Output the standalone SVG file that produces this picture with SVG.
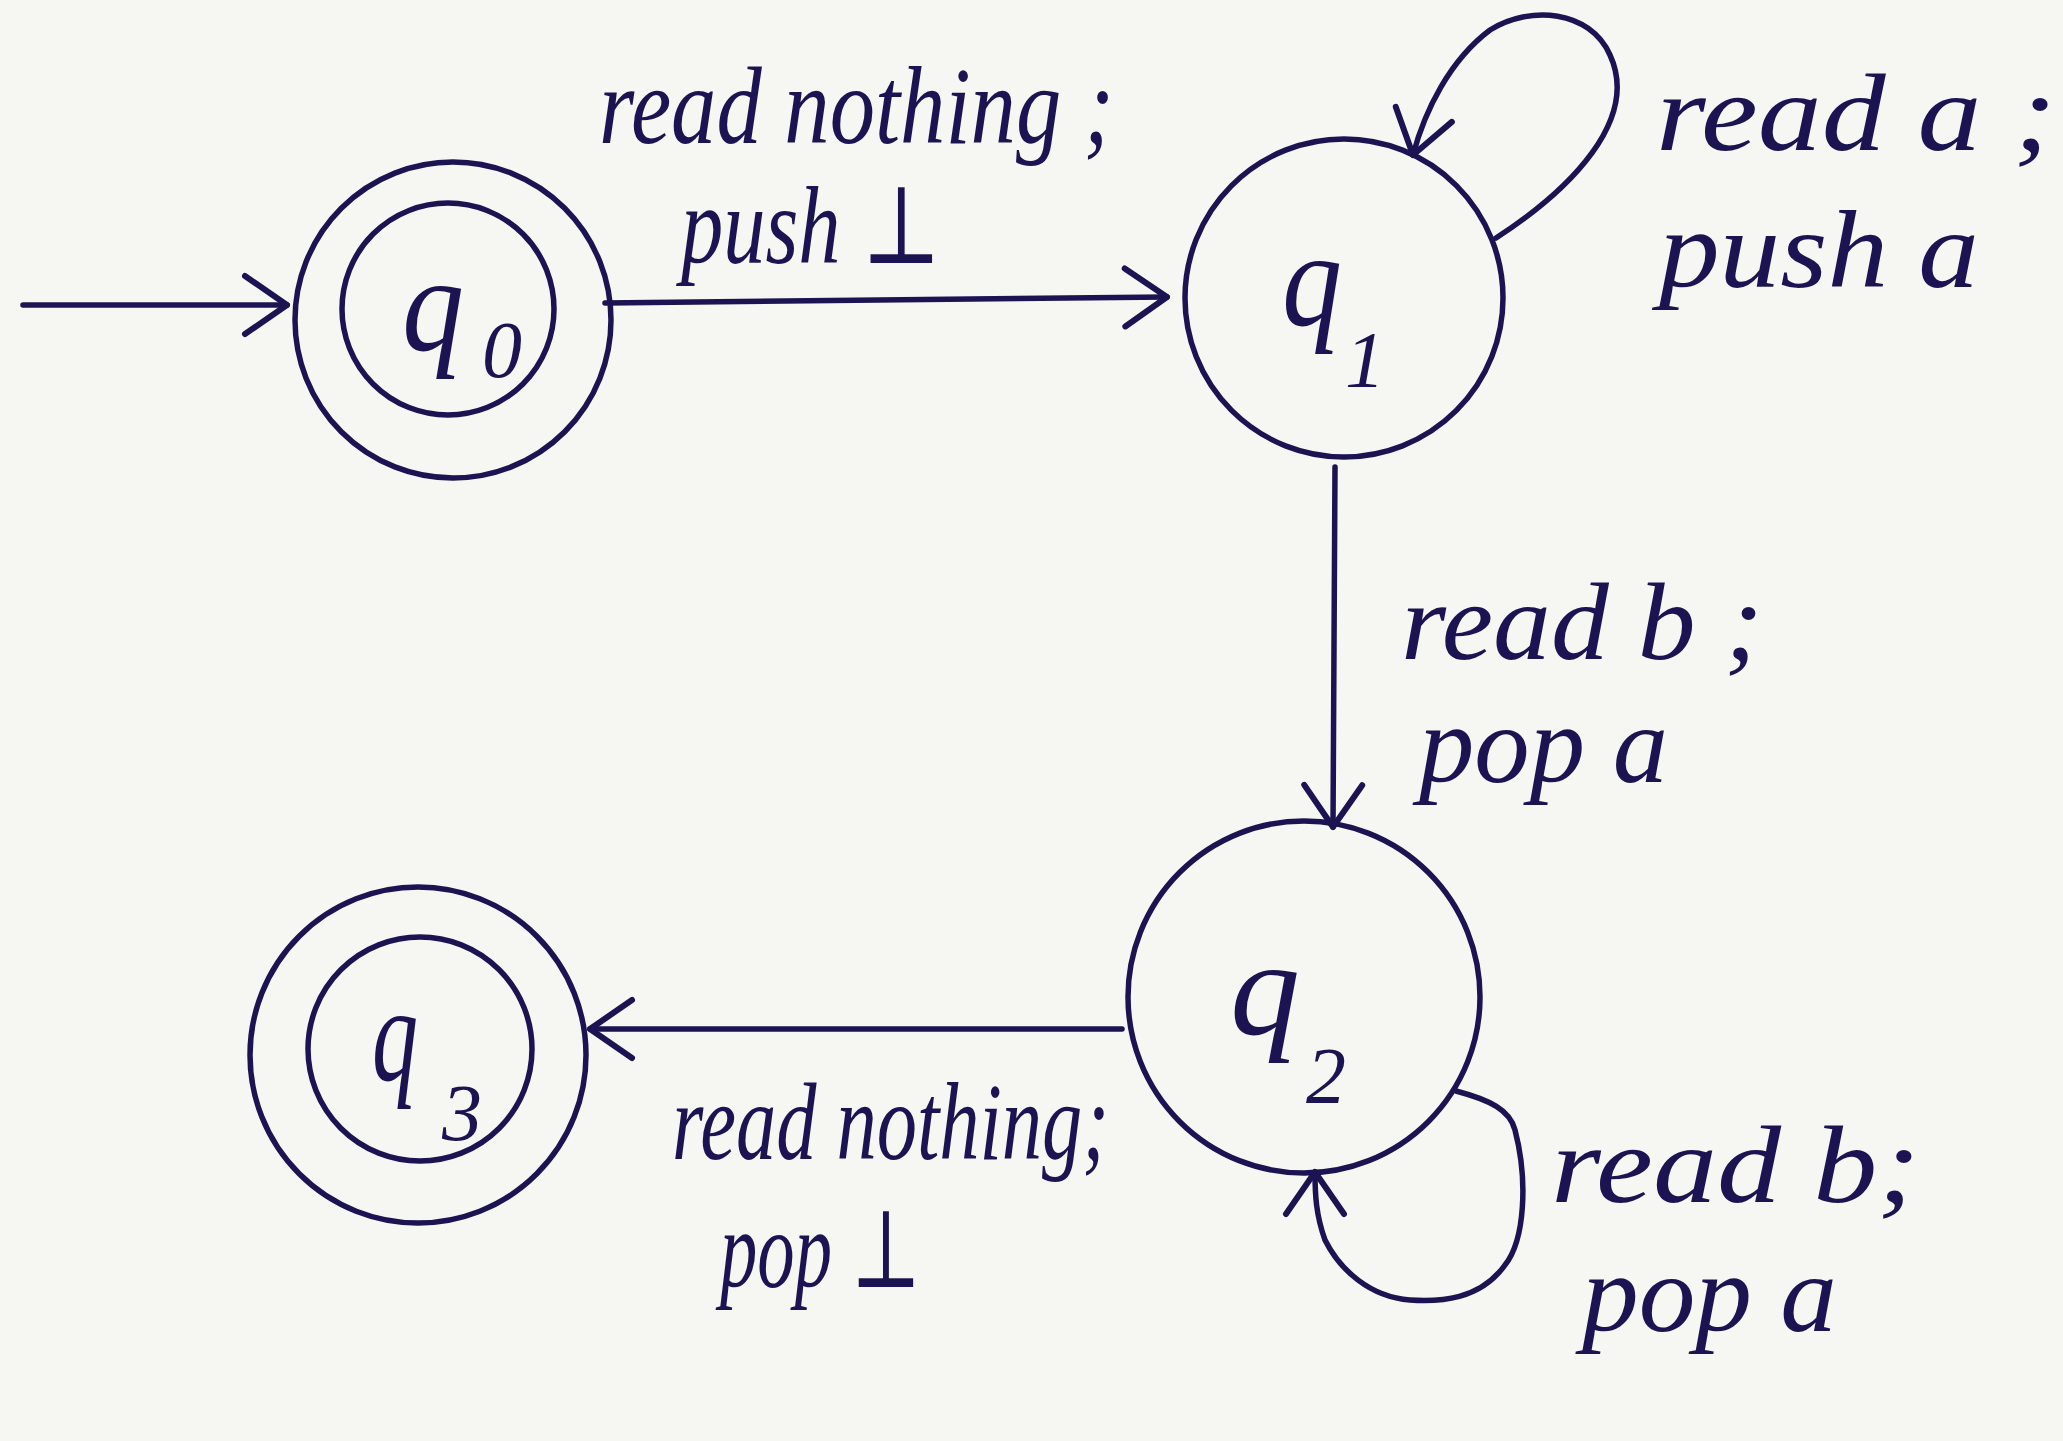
<svg xmlns="http://www.w3.org/2000/svg" width="2063" height="1441" viewBox="0 0 2063 1441">
<style>
.st{fill:none;stroke:#1c1452;stroke-width:5.5;stroke-linecap:round;stroke-linejoin:round}
.lbl{font-family:"Liberation Serif","DejaVu Serif",serif;font-style:italic;font-size:110px;fill:#1c1452}
.q{font-family:"Liberation Serif","DejaVu Serif",serif;font-style:italic;font-size:135px;fill:#1c1452}
.sub{font-family:"Liberation Serif","DejaVu Serif",serif;font-style:italic;font-size:80px;fill:#1c1452}
</style>
<defs>
<marker id="ah" markerUnits="userSpaceOnUse" viewBox="-60 -50 70 100" refX="0" refY="0" markerWidth="70" markerHeight="100" orient="auto" overflow="visible">
<path d="M-42,-29 L0,0 L-42,29" fill="none" stroke="#1c1452" stroke-width="6" stroke-linecap="round" stroke-linejoin="round"/>
</marker>
</defs>
<rect width="2063" height="1441" fill="#f6f6f2"/>
<g id="q0">
<circle class="st" cx="453" cy="320" r="158"/>
<circle class="st" cx="448" cy="309" r="106"/>
<text class="q" x="402" y="350" font-size="175" textLength="62" lengthAdjust="spacingAndGlyphs">q</text>
<text class="sub" x="482" y="377" font-size="55">0</text>
</g>
<g id="q1">
<circle class="st" cx="1344" cy="298" r="159"/>
<text class="q" x="1282" y="325" textLength="60" lengthAdjust="spacingAndGlyphs">q</text>
<text class="sub" x="1345" y="387">1</text>
</g>
<g id="q2">
<circle class="st" cx="1304" cy="997" r="176"/>
<text class="q" x="1230" y="1034" textLength="70" lengthAdjust="spacingAndGlyphs">q</text>
<text class="sub" x="1306" y="1103" font-size="85">2</text>
</g>
<g id="q3">
<circle class="st" cx="418" cy="1055" r="168"/>
<circle class="st" cx="420" cy="1049" r="112"/>
<text class="q" x="372" y="1080" textLength="46" lengthAdjust="spacingAndGlyphs">q</text>
<text class="sub" x="442" y="1140" font-size="80">3</text>
</g>
<g id="connectors">
<path class="st" d="M23,305 L287,305" marker-end="url(#ah)"/>
<path class="st" d="M605,303 L1167,297" marker-end="url(#ah)"/>
<path class="st" d="M1335,467 L1333,827" marker-end="url(#ah)"/>
<path class="st" d="M1122,1029 L590,1029" marker-end="url(#ah)"/>
<path class="st" d="M1496,238 C1570,190 1640,120 1610,55 C1590,10 1530,5 1490,30 C1450,60 1425,110 1413,155" marker-end="url(#ah)"/>
<path class="st" d="M1456,1091 C1490,1100 1510,1110 1515,1130 C1528,1180 1525,1240 1505,1265 C1480,1300 1440,1302 1410,1300 C1370,1297 1340,1270 1325,1240 C1316,1215 1315,1195 1315,1172" marker-end="url(#ah)"/>
</g>
<g id="labels">
<text class="lbl" x="599" y="143" textLength="515" lengthAdjust="spacingAndGlyphs">read nothing ;</text>
<text class="lbl" x="681" y="263" textLength="260" lengthAdjust="spacingAndGlyphs">push ⊥</text>
<text class="lbl" x="1656" y="150" textLength="400" lengthAdjust="spacingAndGlyphs">read a ;</text>
<text class="lbl" x="1659" y="287" textLength="320" lengthAdjust="spacingAndGlyphs">push a</text>
<text class="lbl" x="1401" y="659" textLength="362" lengthAdjust="spacingAndGlyphs">read b ;</text>
<text class="lbl" x="1419" y="782" textLength="249" lengthAdjust="spacingAndGlyphs">pop a</text>
<text class="lbl" x="1551" y="1202" textLength="369" lengthAdjust="spacingAndGlyphs">read b;</text>
<text class="lbl" x="1582" y="1331" textLength="255" lengthAdjust="spacingAndGlyphs">pop a</text>
<text class="lbl" x="672" y="1159" textLength="437" lengthAdjust="spacingAndGlyphs">read nothing;</text>
<text class="lbl" x="720" y="1287" textLength="201" lengthAdjust="spacingAndGlyphs">pop ⊥</text>
</g>
</svg>
